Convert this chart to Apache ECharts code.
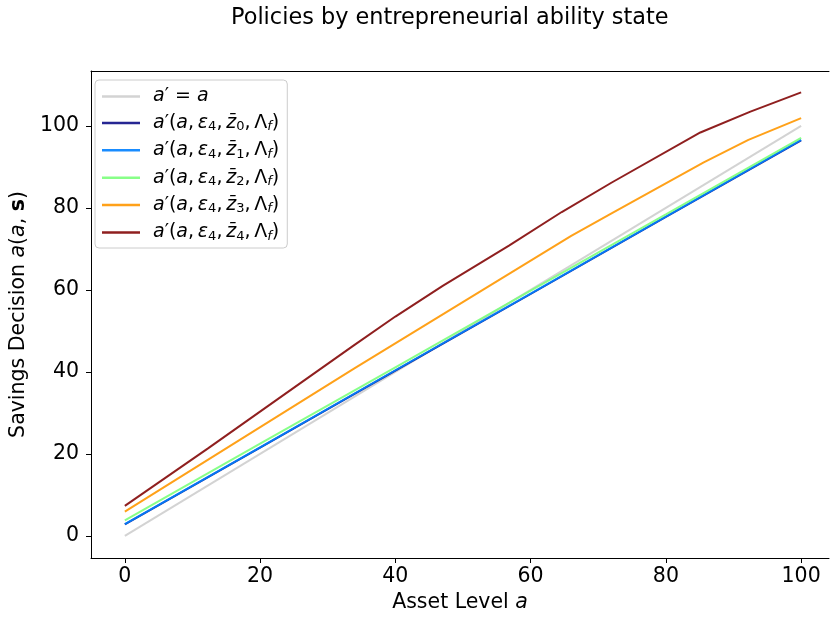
<!DOCTYPE html>
<html>
<head>
<meta charset="utf-8">
<script src="https://cdn.jsdelivr.net/npm/echarts@6/dist/echarts.min.js"></script>
<style>html,body{margin:0;padding:0;background:#fff}#c{width:830px;height:618px}</style>
</head>
<body>
<div id="c"></div>
<script>
// Asset grid points (x) and policy values (y)
const identityX = [0, 100];
const identityY = [0, 100];
const z0X = [0, 20, 40, 60, 80, 100];
const z0Y = [2.8, 21.5, 40.3, 59.0, 77.8, 96.5];
const z1X = [0, 20, 40, 60, 80, 100];
const z1Y = [2.86, 21.6, 40.4, 59.1, 77.9, 96.6];
const z2X = [0, 20, 40, 60, 80, 100];
const z2Y = [3.8, 22.5, 41.1, 59.8, 78.4, 97.1];
const z3X = [0, 33.7, 66, 71.9, 85.6, 92.2, 100];
const z3Y = [5.9, 40.6, 73.2, 78.6, 91.1, 96.6, 101.9];
const z4X = [0, 12.35, 33.7, 40, 47, 56.8, 64.6, 72, 85.1, 92.5, 100];
const z4Y = [7.3, 21.4, 46.3, 53.5, 61.0, 70.8, 79.0, 86.2, 98.4, 103.5, 108.2];
const yTicks = [0, 20, 40, 60, 80, 100];
const xTicks = [0, 20, 40, 60, 80, 100];

function pairs(xs, ys) { return xs.map((x, i) => [x, ys[i]]); }

const FONT = 'DejaVu Sans';
const FS = 20.5;
const names = ['id', 'z0', 'z1', 'z2', 'z3', 'z4'];
const colors = ['#d3d3d3', 'rgba(0,0,128,0.85)', 'rgba(0,128,255,0.9)', 'rgba(123,255,123,0.9)', 'rgba(255,151,0,0.9)', 'rgba(128,0,0,0.88)'];
const datasets = [pairs(identityX, identityY), pairs(z0X, z0Y), pairs(z1X, z1Y), pairs(z2X, z2Y), pairs(z3X, z3Y), pairs(z4X, z4Y)];

function legendLabel(n) {
  if (n === 'id') return '{i|a}{n|\u2032 = }{i|a}';
  const k = n.slice(1);
  return '{i|a}{n|\u2032(}{i|a}{n|,\u2009}{i|\u03b5}{s|4}{n|,\u2009}{i|z\u0304}{s|' + k + '}{n|,\u2009\u039b}{si|f}{n|)}';
}

const chart = echarts.init(document.getElementById('c'), null, {renderer: 'canvas'});
chart.setOption({
  animation: false,
  backgroundColor: '#fff',
  textStyle: {fontFamily: FONT},
  title: {
    text: 'Policies by entrepreneurial ability state',
    left: 226, top: 2,
    textStyle: {fontFamily: FONT, fontSize: 22.4, fontWeight: 'normal', color: '#000'}
  },
  grid: {left: 87, top: 71, right: 1, height: 487, show: false, containLabel: false},
  xAxis: [{
    type: 'value', min: -5, max: 104.12,
    splitLine: {show: false},
    axisLine: {onZero: false, lineStyle: {color: '#000', width: 1}},
    axisTick: {show: true, length: 5, inside: false, customValues: xTicks, lineStyle: {color: '#000'}},
    axisLabel: {customValues: xTicks, margin: 8, fontSize: FS, color: '#000', fontFamily: FONT},
    name: '{n|Asset Level }{i|a}',
    nameLocation: 'middle', nameGap: 33,
    nameTextStyle: {fontSize: FS, color: '#000', fontFamily: FONT,
      rich: {n: {fontSize: FS, fontFamily: FONT, color: '#000'}, i: {fontSize: FS, fontFamily: FONT, fontStyle: 'italic', color: '#000'}}}
  }, {
    type: 'value', min: -5, max: 104.12, position: 'top',
    splitLine: {show: false},
    axisLine: {onZero: false, lineStyle: {color: '#000', width: 1}},
    axisTick: {show: false}, axisLabel: {show: false}
  }],
  yAxis: {
    type: 'value', min: -5.4, max: 113.4,
    splitLine: {show: false},
    axisLine: {show: true, onZero: false, lineStyle: {color: '#000', width: 1}},
    axisTick: {show: true, length: 5, inside: false, customValues: yTicks, lineStyle: {color: '#000'}},
    axisLabel: {customValues: yTicks, margin: 12, fontSize: FS, color: '#000', fontFamily: FONT},
    name: '{n|Savings Decision }{i|a}{n|(}{i|a}{n|, }{b|s}{n|)}',
    nameLocation: 'middle', nameGap: 52, nameRotate: 90,
    nameTextStyle: {fontSize: FS, color: '#000', fontFamily: FONT,
      rich: {n: {fontSize: FS, fontFamily: FONT, color: '#000'}, i: {fontSize: FS, fontFamily: FONT, fontStyle: 'italic', color: '#000'}, b: {fontSize: FS, fontFamily: FONT, fontWeight: 'bold', color: '#000'}}}
  },
  legend: {
    orient: 'vertical', left: 95, top: 80,
    data: names,
    icon: 'rect', itemWidth: 38, itemHeight: 2.5, itemGap: 7.4,
    padding: [7, 8, 5, 7],
    backgroundColor: 'rgba(255,255,255,0.85)', borderColor: '#cccccc', borderWidth: 1, borderRadius: 4,
    formatter: legendLabel,
    textStyle: {
      fontFamily: FONT, fontSize: 19, color: '#000', padding: [0, 0, 0, 8],
      rich: {
        n: {fontSize: 19, fontFamily: FONT, color: '#000', lineHeight: 21},
        i: {fontSize: 19, fontFamily: FONT, fontStyle: 'italic', color: '#000', lineHeight: 21},
        s: {fontSize: 13, fontFamily: FONT, color: '#000', lineHeight: 12, verticalAlign: 'bottom'},
        si: {fontSize: 13, fontFamily: FONT, fontStyle: 'italic', color: '#000', lineHeight: 12, verticalAlign: 'bottom'}
      }
    }
  },
  series: names.map((n, i) => ({
    name: n, type: 'line', data: datasets[i], showSymbol: false, symbol: 'none',
    lineStyle: {color: colors[i], width: 2}, itemStyle: {color: colors[i]},
    emphasis: {disabled: true}, z: 2 + i
  }))
});
</script>
</body>
</html>
